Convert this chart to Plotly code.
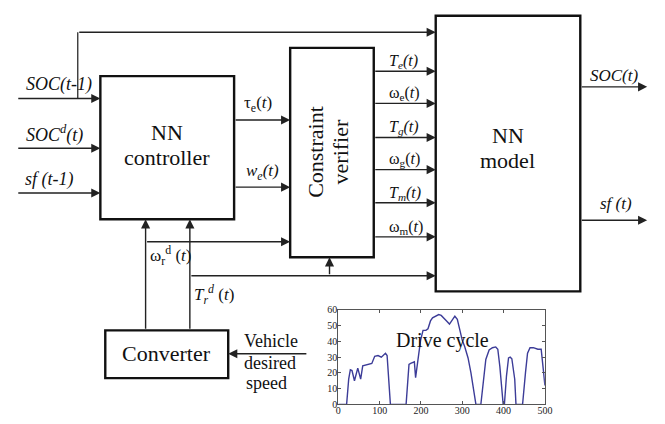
import plotly.graph_objects as go

# ---------------- data: drive cycle (time s, speed) ----------------
cycle_t = [0, 20, 25, 29, 33, 39, 47, 54, 59, 69, 81, 88, 96, 104, 109, 114, 118, 126,
           164, 171, 175, 181, 184, 187, 194, 199, 205, 212, 217, 223, 228, 235, 243, 249,
           257, 262, 269, 274, 282, 288, 294, 300, 306, 314, 321, 329, 333,
           345, 352, 357, 365, 373, 381, 386, 391, 397, 399,
           402, 407, 412, 416, 420, 427, 430,
           446, 453, 458, 464, 472, 483, 491, 497, 500]
cycle_v = [0, 0, 16, 22, 21.5, 15, 23, 16, 24.5, 25, 26, 30.5, 31, 30, 31, 32.5, 31, 0,
           0, 25.4, 26, 26.4, 27, 17, 31.5, 40.7, 47, 47, 48, 53, 55, 56, 57, 56.5,
           54, 53, 51, 53, 56, 54, 46.8, 40.7, 36.6, 29.5, 20, 6, 0,
           0, 16, 28.5, 34.6, 36, 36.5, 35, 24, 6, 0,
           0, 18, 29.5, 30, 29, 16, 0,
           0, 20, 32.5, 36, 36, 35, 35, 20, 12]
x_ticks = [0, 100, 200, 300, 400, 500]
y_ticks = [0, 10, 20, 30, 40, 50, 60]

W, H = 665, 424
SERIF = "Times New Roman, Liberation Serif, Tinos, DejaVu Serif, serif"
LINE = "#3a3a3a"

fig = go.Figure()
fig.add_trace(go.Scatter(x=cycle_t, y=cycle_v, mode="lines", xaxis="x2", yaxis="y2",
                         line=dict(color="#3c3c98", width=1.4), hoverinfo="skip",
                         showlegend=False))

shapes = []
annotations = []


def box(x0, y0, x1, y1):
    shapes.append(dict(type="rect", xref="x", yref="y", x0=x0, y0=y0, x1=x1, y1=y1,
                       line=dict(color="#111111", width=2.4), fillcolor="white",
                       layer="below"))


def seg(x0, y0, x1, y1):
    shapes.append(dict(type="line", xref="x", yref="y", x0=x0, y0=y0, x1=x1, y1=y1,
                       line=dict(color=LINE, width=1.4)))


def arrow(x0, y0, x1, y1):
    annotations.append(dict(x=x1, y=y1, ax=x0, ay=y0, xref="x", yref="y", axref="x",
                            ayref="y", text="", showarrow=True, arrowhead=2,
                            arrowsize=1.3, arrowwidth=1.4, arrowcolor="#222222",
                            standoff=0))


def text(x, y, s, size=18, xanchor="left", angle=0):
    annotations.append(dict(x=x, y=y, xref="x", yref="y", text=s, showarrow=False,
                            xanchor=xanchor, yanchor="middle", textangle=angle,
                            font=dict(family=SERIF, size=size, color="#111111")))


# blocks
box(99, 72, 235, 219)      # NN controller
box(292, 43, 377, 258)     # constraint verifier
box(440, 10, 587, 293)     # NN model
box(104, 333, 229, 382)    # converter

# inputs
arrow(14, 95, 99, 95)
arrow(14, 146, 99, 146)
arrow(14, 192, 99, 192)
seg(76, 95, 76, 27)
arrow(76, 27, 440, 27)
text(21, 81, "<i>SOC(t-1)</i>")
text(21, 131, "<i>SOC<sup>d</sup>(t)</i>")
text(20, 178, "<i>sf (t-1)</i>")

# controller outputs
arrow(235, 117, 292, 117)
arrow(235, 186, 292, 186)
text(243, 101, "τ<sub>e</sub>(<i>t</i>)", size=17)
text(245, 170, "<i>w<sub>e</sub>(t)</i>", size=17)

# verifier outputs
ver_y = [67, 100, 135, 168, 202, 237]
ver_lab = ["<i>T<sub>e</sub>(t)</i>", "ω<sub>e</sub>(<i>t</i>)", "<i>T<sub>g</sub>(t)</i>",
           "ω<sub>g</sub>(<i>t</i>)", "<i>T<sub>m</sub>(t)</i>", "ω<sub>m</sub>(<i>t</i>)"]
for yy, lab in zip(ver_y, ver_lab):
    arrow(377, yy, 440, yy)
    text(390, yy - 10, lab, size=16)

# model outputs
arrow(587, 83, 655, 83)
arrow(587, 220, 655, 220)
text(595, 71, "<i>SOC(t)</i>", size=17)
text(605, 203, "<i>sf (t)</i>", size=17)

# converter links
arrow(145, 333, 145, 219)
arrow(190, 333, 190, 219)
arrow(145, 242, 292, 242)
arrow(190, 277, 440, 277)
arrow(332, 277, 332, 258)
arrow(310, 357, 229, 357)
text(147, 256, "ω<sub>r</sub><sup>d</sup> (<i>t</i>)", size=17)
text(192, 296, "<i>T<sub>r</sub><sup>d</sup></i> (<i>t</i>)", size=17)

# block labels
text(167, 130, "NN", size=22, xanchor="center")
text(167, 156, "controller", size=22, xanchor="center")
text(317, 150, "Constraint", size=22, xanchor="center", angle=-90)
text(343, 150, "verifier", size=22, xanchor="center", angle=-90)
text(513, 133, "NN", size=22, xanchor="center")
text(513, 159, "model", size=22, xanchor="center")
text(166, 357, "Converter", size=22, xanchor="center")
text(243, 344, "Vehicle", size=18)
text(243, 366, "desired", size=18)
text(245, 387, "speed", size=18)
text(447, 343, "Drive cycle", size=20, xanchor="center")

# inset axes pixel placement
px0, px1, py0, py1 = 341, 551, 312, 409

fig.update_layout(
    width=W, height=H, margin=dict(l=0, r=0, t=0, b=0),
    paper_bgcolor="white", plot_bgcolor="rgba(0,0,0,0)", showlegend=False,
    font=dict(family=SERIF),
    xaxis=dict(range=[0, W], visible=False, domain=[0, 1], fixedrange=True),
    yaxis=dict(range=[H, 0], visible=False, domain=[0, 1], fixedrange=True),
    xaxis2=dict(domain=[px0 / W, px1 / W], anchor="y2", range=[0, 500],
                tickvals=x_ticks, ticks="inside", ticklen=3, tickcolor="#555",
                showline=True, linecolor="#555", linewidth=1, mirror="ticks",
                showgrid=False, zeroline=False, ticklabelstandoff=-3,
                tickfont=dict(family=SERIF, size=10, color="#222")),
    yaxis2=dict(domain=[1 - py1 / H, 1 - py0 / H], anchor="x2", range=[0, 60],
                tickvals=y_ticks, ticks="inside", ticklen=3, tickcolor="#555",
                showline=True, linecolor="#555", linewidth=1, mirror="ticks",
                showgrid=False, zeroline=False, ticklabelstandoff=-2,
                tickfont=dict(family=SERIF, size=10, color="#222")),
    shapes=shapes, annotations=annotations,
)

fig.write_html("out.html", config={"displayModeBar": False},
               post_script="document.body.style.margin='0px';")
